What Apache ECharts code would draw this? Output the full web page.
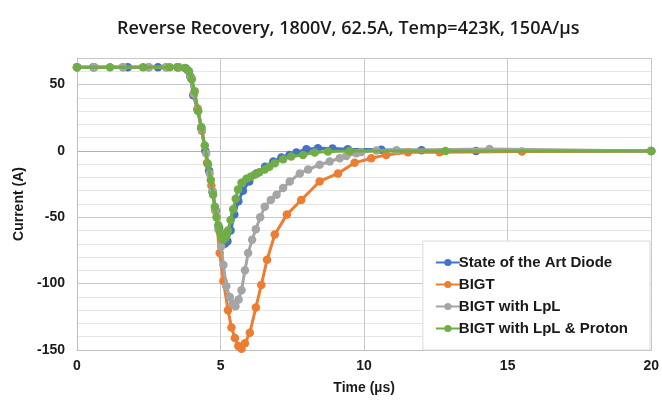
<!DOCTYPE html>
<html>
<head>
<meta charset="utf-8">
<script src="https://cdn.jsdelivr.net/npm/echarts@6/dist/echarts.min.js"></script>
<style>html,body{margin:0;padding:0;background:#fff}#c{width:662px;height:400px}</style>
</head>
<body>
<div id="c"></div>
<script>
const titleText = 'Reverse Recovery, 1800V, 62.5A, Temp=423K, 150A/µs';
const xName = 'Time (µs)';
const yName = 'Current (A)';
const seriesNames = ['State of the Art Diode', 'BIGT', 'BIGT with LpL', 'BIGT with LpL & Proton'];

const diodeTime = [0, 0.57, 1.77, 2.82, 3.5, 3.8, 3.95, 4.05, 4.2, 4.33, 4.47, 4.6, 4.72, 4.84, 4.95, 5.05, 5.15, 5.24, 5.35, 5.48, 5.62, 5.78, 6.0, 6.25, 6.55, 6.84, 7.12, 7.4, 7.64, 7.99, 8.39, 8.9, 9.43, 10.6, 12.0, 13.9, 20];
const diodeCurr = [63, 63, 63, 63, 63, 62, 56, 42, 31, 17, 0, -15, -31, -45, -58, -66, -70, -68, -60, -48, -38, -30, -23, -17, -12, -8, -5, -3, -1.2, 1.3, 2, 1.8, 1.3, 0.8, 0.5, 0, 0];

const bigtTime = [0, 0.6, 1.6, 2.5, 3.1, 3.55, 3.85, 3.97, 4.07, 4.2, 4.35, 4.53, 4.68, 4.82, 4.97, 5.1, 5.26, 5.38, 5.5, 5.62, 5.73, 5.85, 6.02, 6.23, 6.42, 6.62, 6.89, 7.31, 7.81, 8.45, 9.09, 9.67, 10.25, 10.77, 11.53, 12.63, 15.5, 20];
const bigtCurr = [63, 63, 63, 63, 63, 63, 61, 55, 43, 32, 15, -9, -26, -45, -77, -98, -120, -133, -141, -147, -149, -145, -137, -118, -101, -82, -63, -48, -37, -23, -17, -9, -5.5, -3, -1, -1, -0.5, 0];

const lplTime = [0, 0.6, 1.6, 2.5, 3.1, 3.55, 3.85, 3.97, 4.08, 4.22, 4.35, 4.5, 4.62, 4.72, 4.82, 4.92, 5.02, 5.1, 5.2, 5.32, 5.42, 5.52, 5.63, 5.73, 5.85, 5.96, 6.1, 6.23, 6.38, 6.54, 6.75, 6.95, 7.18, 7.41, 7.76, 8.05, 8.45, 8.8, 9.15, 9.38, 9.73, 9.9, 10.43, 11.13, 14.37, 20];
const lplCurr = [63, 63, 63, 63, 63, 63, 61, 55, 43, 30, 16, -2, -17, -30, -44, -59, -72, -86, -102, -110, -115, -117, -112, -105, -90, -77, -67, -59, -50, -42, -37, -33, -28, -23, -17, -14, -10.5, -8, -5.5, -3.8, -1.8, -0.8, 0.3, 0.5, 1.5, 0];

const protonTime = [0, 1.15, 2.3, 3.23, 3.5, 3.76, 3.9, 4.0, 4.1, 4.22, 4.33, 4.45, 4.56, 4.66, 4.74, 4.8, 4.86, 4.92, 4.98, 5.03, 5.09, 5.15, 5.2, 5.26, 5.35, 5.44, 5.53, 5.61, 5.73, 5.9, 6.05, 6.19, 6.35, 6.54, 6.7, 6.89, 7.18, 7.46, 7.87, 8.28, 8.74, 9.5, 12.83, 20];
const protonCurr = [63, 63, 63, 63, 63, 62.5, 60, 54, 45, 30, 18, 4, -10, -22, -33, -42, -50, -56, -61, -65, -67, -66, -64, -60, -52, -44, -36, -29, -24, -21, -19.5, -18, -16, -14, -12, -9.3, -6.2, -4.2, -3, -1.2, -0.5, 0, 0, 0];

const xMin = 0, xMax = 20, xStep = 5;
const yMin = -150, yMax = 70, yStep = 10, yLabelStep = 50;

const colors = ['#4472C4', '#ED7D31', '#A5A5A5', '#70AD47'];
const seriesTimes = [diodeTime, bigtTime, lplTime, protonTime];
const seriesCurrs = [diodeCurr, bigtCurr, lplCurr, protonCurr];

const font = '"Liberation Sans", Arial, sans-serif';
const yTicks = [];
for (let v = yMin; v <= yMax; v += yStep) yTicks.push(v);
const splitColors = yTicks.map(v => v === 0 ? '#b0b0b0' : (v % yLabelStep === 0 || v === yMax) ? '#c8c8c8' : '#e6e6e6');

const chart = echarts.init(document.getElementById('c'), null, {renderer: 'canvas'});
chart.setOption({
  animation: false,
  backgroundColor: '#fff',
  color: colors,
  title: {
    text: titleText,
    left: 112, top: 15,
    textStyle: {fontFamily: '"Open Sans", sans-serif', fontWeight: 600, fontSize: 18, color: '#1a1a1a'}
  },
  grid: {left: 77, right: 10, top: 58, bottom: 48, containLabel: false},
  legend: {
    orient: 'vertical', right: 12, top: 241,
    backgroundColor: '#fff', borderColor: '#d9d9d9', borderWidth: 1,
    padding: [14, 22, 14, 12], itemGap: 7, itemWidth: 24, itemHeight: 9,
    textStyle: {fontFamily: font, fontWeight: 'bold', fontSize: 15, color: '#1a1a1a', padding: [0, 0, 0, -6]},
    data: seriesNames
  },
  xAxis: {
    type: 'value', min: xMin, max: xMax, interval: xStep,
    name: xName, nameLocation: 'middle', nameGap: 31,
    nameTextStyle: {fontFamily: font, fontWeight: 'bold', fontSize: 14, color: '#1a1a1a'},
    axisLine: {show: true, onZero: false, lineStyle: {color: '#bfbfbf'}},
    axisTick: {show: false},
    axisLabel: {fontFamily: font, fontWeight: 'bold', fontSize: 14, color: '#1a1a1a', margin: 9},
    splitLine: {show: true, lineStyle: {color: '#c8c8c8', width: 1}}
  },
  yAxis: {
    type: 'value', min: yMin, max: yMax, interval: yStep,
    name: yName, nameLocation: 'middle', nameGap: 50, nameRotate: 90,
    nameTextStyle: {fontFamily: font, fontWeight: 'bold', fontSize: 14, color: '#1a1a1a'},
    axisLine: {show: true, lineStyle: {color: '#bfbfbf'}},
    axisTick: {show: false},
    axisLabel: {
      fontFamily: font, fontWeight: 'bold', fontSize: 14, color: '#1a1a1a', margin: 12,
      formatter: v => (v % yLabelStep === 0 ? String(v) : '')
    },
    splitLine: {show: true, lineStyle: {color: splitColors, width: 1}}
  },
  series: seriesNames.map((name, i) => ({
    name: name,
    type: 'line',
    data: seriesTimes[i].map((t, k) => [t, seriesCurrs[i][k]]),
    symbol: 'circle', symbolSize: 8.5,
    lineStyle: {width: 3, color: colors[i]},
    itemStyle: {color: colors[i]},
    z: 2 + i
  }))
});
</script>
</body>
</html>
